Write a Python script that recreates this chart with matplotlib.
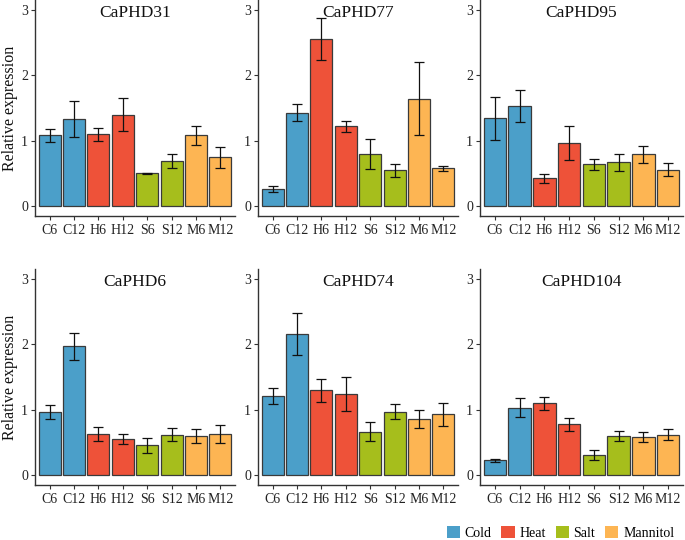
import matplotlib
matplotlib.use("Agg")
import matplotlib.pyplot as plt
from matplotlib.patches import Patch

plt.rcParams['font.family'] = ['Liberation Serif', 'DejaVu Serif']

categories = ["C6", "C12", "H6", "H12", "S6", "S12", "M6", "M12"]
groups = ["Cold", "Cold", "Heat", "Heat", "Salt", "Salt", "Mannitol", "Mannitol"]
legend_labels = ["Cold", "Heat", "Salt", "Mannitol"]
colors = {"Cold": "#4B9FC9", "Heat": "#EE5239", "Salt": "#A6BE1C", "Mannitol": "#FDB553"}

genes = ["CaPHD31", "CaPHD77", "CaPHD95", "CaPHD6", "CaPHD74", "CaPHD104"]

caphd31 = [1.08, 1.33, 1.10, 1.40, 0.50, 0.69, 1.08, 0.75]
caphd31_err = [0.10, 0.27, 0.10, 0.25, 0.01, 0.11, 0.15, 0.16]
caphd77 = [0.26, 1.43, 2.55, 1.22, 0.80, 0.55, 1.645, 0.58]
caphd77_err = [0.05, 0.135, 0.32, 0.085, 0.23, 0.10, 0.555, 0.04]
caphd95 = [1.34, 1.53, 0.425, 0.965, 0.64, 0.67, 0.79, 0.56]
caphd95_err = [0.33, 0.25, 0.065, 0.26, 0.085, 0.13, 0.13, 0.095]
caphd6 = [0.96, 1.97, 0.63, 0.556, 0.454, 0.62, 0.60, 0.63]
caphd6_err = [0.107, 0.204, 0.105, 0.08, 0.115, 0.10, 0.11, 0.14]
caphd74 = [1.21, 2.16, 1.30, 1.24, 0.667, 0.97, 0.86, 0.93]
caphd74_err = [0.115, 0.32, 0.175, 0.255, 0.14, 0.115, 0.143, 0.18]
caphd104 = [0.225, 1.03, 1.10, 0.775, 0.31, 0.60, 0.58, 0.62]
caphd104_err = [0.02, 0.145, 0.10, 0.095, 0.075, 0.08, 0.08, 0.087]

values = [caphd31, caphd77, caphd95, caphd6, caphd74, caphd104]
errors = [caphd31_err, caphd77_err, caphd95_err, caphd6_err, caphd74_err, caphd104_err]

W, H = 685, 540
fig = plt.figure(figsize=(W / 100, H / 100), dpi=100)

lefts = [35, 258, 480]
widths = [200, 200, 203]
rows = [(0, 216), (269, 485)]  # (top px, bottom px)

axis_col = "#333333"
for i, gene in enumerate(genes):
    r, c = divmod(i, 3)
    top, bot = rows[r]
    ax = fig.add_axes([lefts[c] / W, 1 - bot / H, widths[c] / W, (bot - top) / H])
    x = list(range(1, len(categories) + 1))
    ax.bar(x, values[i], width=0.9, color=[colors[g] for g in groups],
           edgecolor="#3a3a3a", linewidth=0.9, zorder=2)
    ax.errorbar(x, values[i], yerr=errors[i], fmt="none", ecolor="#111111",
                elinewidth=0.9, capsize=3.5, capthick=0.9, zorder=3)
    ax.set_xlim(0.4, 8.6)
    ax.set_ylim(-0.15, 3.15)
    ax.set_yticks([0, 1, 2, 3])
    ax.set_xticks(x)
    ax.set_xticklabels(categories, fontsize=10, color="#222222")
    ax.tick_params(axis="y", labelsize=10, labelcolor="#222222", length=3, color=axis_col, width=0.8, pad=2)
    ax.tick_params(axis="x", length=3, color=axis_col, width=0.8, pad=3)
    for s in ["top", "right"]:
        ax.spines[s].set_visible(False)
    for s in ["left", "bottom"]:
        ax.spines[s].set_color(axis_col)
        ax.spines[s].set_linewidth(1.0)
    ax.text(0.5, 0.975, gene, transform=ax.transAxes, ha="center", va="top", fontsize=12.5, color="#111111")
    if c == 0:
        ax.set_ylabel("Relative expression", fontsize=11.5, color="#111111")
        ax.yaxis.set_label_coords(-(35 - 18) / widths[c], 0.5)
    ax.set_facecolor("white")

handles = [Patch(facecolor=colors[g], edgecolor="none", label=g) for g in legend_labels]
fig.legend(handles=handles, loc="center right", bbox_to_anchor=(684 / W, 1 - 533 / H),
           ncol=4, frameon=False, fontsize=10, handlelength=0.95, handleheight=0.9,
           handletextpad=0.35, columnspacing=0.7, borderpad=0.2)

fig.savefig("out.png", dpi=100)
